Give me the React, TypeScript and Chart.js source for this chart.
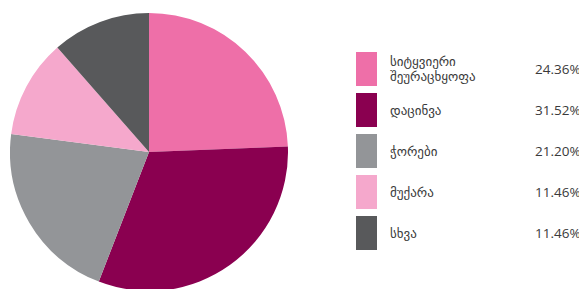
import React, { useEffect, useRef } from "react";
import { Chart, registerables } from "chart.js";

Chart.register(...registerables);

const categories: string[][] = [
  ["სიტყვიერი", "შეურაცხყოფა"],
  ["დაცინვა"],
  ["ჭორები"],
  ["მუქარა"],
  ["სხვა"],
];
const values: number[] = [24.36, 31.52, 21.2, 11.46, 11.46];
const percentLabels: string[] = ["24.36%", "31.52%", "21.20%", "11.46%", "11.46%"];
const colors: string[] = ["#EE6FA8", "#8A0050", "#939598", "#F5A8CC", "#58595B"];

export default function App() {
  const ref = useRef<HTMLCanvasElement | null>(null);
  useEffect(() => {
    if (!ref.current) return;
    const chart = new Chart(ref.current, {
      type: "pie",
      data: {
        labels: categories.map((c) => c.join(" ")),
        datasets: [
          {
            data: values,
            backgroundColor: colors,
            borderWidth: 0,
          },
        ],
      },
      options: {
        responsive: false,
        animation: false,
        plugins: { legend: { display: false }, tooltip: { enabled: false } },
        layout: { padding: 0 },
      },
    });
    return () => chart.destroy();
  }, []);

  return (
    <div
      style={{
        position: "fixed",
        left: 0,
        top: 0,
        width: 579,
        height: 289,
        overflow: "hidden",
        background: "#fff",
      }}
    >
      <canvas
        ref={ref}
        width={278}
        height={278}
        style={{ position: "absolute", left: 10, top: 13, width: 278, height: 278 }}
      />
      {categories.map((c, i) => (
        <div
          key={i}
          style={{
            position: "absolute",
            left: 356,
            top: 52 + i * 41,
            height: 34,
            width: 240,
            display: "flex",
            alignItems: "center",
          }}
        >
          <div style={{ width: 21, height: 34, background: colors[i], flex: "none" }} />
          <div
            style={{
              position: "absolute",
              left: 34,
              fontFamily: "'DejaVu Sans', sans-serif",
              fontSize: 13,
              lineHeight: "15px",
              color: "#3a3a3a",
            }}
          >
            {c.map((line, j) => (
              <div key={j}>{line}</div>
            ))}
          </div>
          <div
            style={{
              position: "absolute",
              left: 179,
              fontFamily: "'Open Sans', sans-serif",
              fontSize: 13.5,
              color: "#3a3a3a",
              whiteSpace: "nowrap",
            }}
          >
            {percentLabels[i]}
          </div>
        </div>
      ))}
    </div>
  );
}
